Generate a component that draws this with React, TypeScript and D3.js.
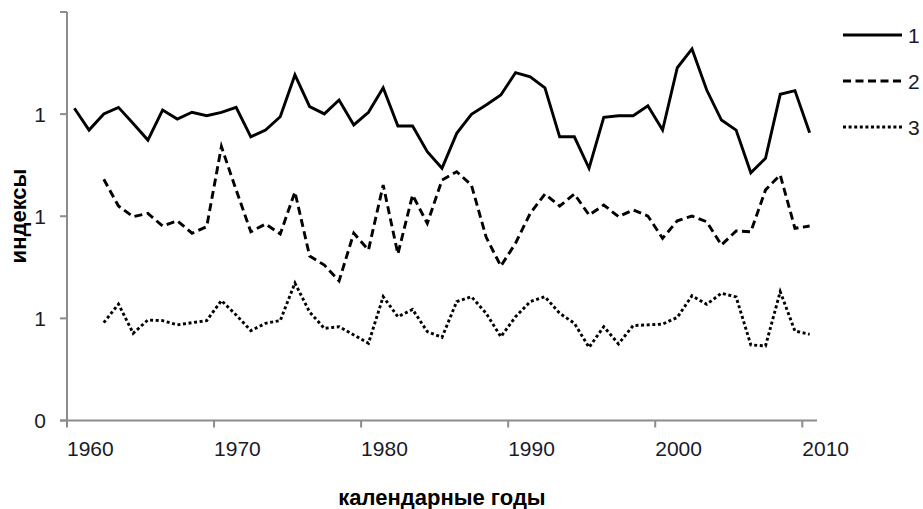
import React from "react";
import * as d3 from "d3";

const years: number[] = [
  1960, 1961, 1962, 1963, 1964, 1965, 1966, 1967, 1968, 1969,
  1970, 1971, 1972, 1973, 1974, 1975, 1976, 1977, 1978, 1979,
  1980, 1981, 1982, 1983, 1984, 1985, 1986, 1987, 1988, 1989,
  1990, 1991, 1992, 1993, 1994, 1995, 1996, 1997, 1998, 1999,
  2000, 2001, 2002, 2003, 2004, 2005, 2006, 2007, 2008, 2009, 2010,
];

const series1: (number | null)[] = [
  1.529, 1.422, 1.501, 1.533, 1.454, 1.373, 1.52, 1.476, 1.509, 1.492,
  1.509, 1.533, 1.389, 1.422, 1.487, 1.692, 1.537, 1.501, 1.569, 1.447,
  1.509, 1.629, 1.442, 1.442, 1.316, 1.235, 1.406, 1.499, 1.545, 1.594,
  1.703, 1.683, 1.629, 1.389, 1.389, 1.235, 1.484, 1.492, 1.492, 1.541,
  1.422, 1.727, 1.819, 1.618, 1.471, 1.422, 1.213, 1.284, 1.597, 1.615, 1.409,
];

const series2: (number | null)[] = [
  null, null, 1.181, 1.05, 0.998, 1.014, 0.952, 0.978, 0.917, 0.949,
  1.341, 1.129, 0.924, 0.962, 0.913, 1.119, 0.805, 0.761, 0.683, 0.917,
  0.835, 1.153, 0.815, 1.104, 0.965, 1.177, 1.218, 1.153, 0.898, 0.756,
  0.868, 1.014, 1.109, 1.05, 1.109, 1.006, 1.055, 0.998, 1.031, 1.001,
  0.892, 0.978, 1.001, 0.973, 0.859, 0.928, 0.924, 1.129, 1.202, 0.941, 0.952,
];

const series3: (number | null)[] = [
  null, null, 0.479, 0.57, 0.427, 0.492, 0.489, 0.468, 0.479, 0.489,
  0.587, 0.517, 0.44, 0.476, 0.489, 0.673, 0.531, 0.451, 0.459, 0.419,
  0.378, 0.606, 0.508, 0.544, 0.435, 0.407, 0.582, 0.606, 0.525, 0.41,
  0.508, 0.582, 0.606, 0.525, 0.476, 0.358, 0.459, 0.375, 0.465, 0.468,
  0.472, 0.505, 0.611, 0.569, 0.623, 0.605, 0.37, 0.365, 0.631, 0.438, 0.422,
];

const seriesNames: string[] = ["1", "2", "3"];
const xTicks: number[] = [1960, 1970, 1980, 1990, 2000, 2010];
const yTicks: number[] = [0, 0.5, 1, 1.5, 2];
const yTickLabels: string[] = ["0", "1", "1", "1", ""];
const xTitle = "календарные годы";
const yTitle = "индексы";

const W = 923;
const H = 509;
const FONT = "'Liberation Sans', Arial, sans-serif";

export default function App() {
  const x = d3.scaleLinear().domain([1960, 2011]).range([67, 817]);
  const y = d3.scaleLinear().domain([0, 2]).range([420.5, 12]);

  const allSeries = [series1, series2, series3];
  const dashes = ["none", "8,4.5", "3,2.6"];

  const line = d3
    .line<[number, number | null]>()
    .defined((d) => d[1] !== null)
    .x((d) => x(d[0] + 0.5))
    .y((d) => y(d[1] as number));

  const axisColor = "#8c8c8c";
  const legendY = [35, 81, 127];

  return (
    <svg
      width={W}
      height={H}
      style={{ position: "absolute", left: 0, top: 0, background: "#fff" }}
    >
      <rect x={0} y={0} width={W} height={H} fill="#fff" />
      {/* axes */}
      <line x1={67} x2={67} y1={y(2)} y2={y(0)} stroke={axisColor} strokeWidth={2} />
      <line x1={60} x2={x(2011)} y1={y(0)} y2={y(0)} stroke={axisColor} strokeWidth={2} />
      {yTicks.map((t, i) => (
        <g key={"yt" + i}>
          <line x1={60} x2={67} y1={y(t)} y2={y(t)} stroke={axisColor} strokeWidth={2} />
          <text
            x={46}
            y={y(t)}
            dy="0.36em"
            textAnchor="end"
            fontFamily={FONT}
            fontSize={21}
            fill="#1a1a2a"
          >
            {yTickLabels[i]}
          </text>
        </g>
      ))}
      {xTicks.map((t) => (
        <g key={"xt" + t}>
          <line x1={x(t)} x2={x(t)} y1={y(0)} y2={y(0) + 7} stroke={axisColor} strokeWidth={2} />
          <text
            x={x(t)}
            y={456}
            textAnchor="start"
            fontFamily={FONT}
            fontSize={21}
            fill="#1a1a2a"
          >
            {t}
          </text>
        </g>
      ))}
      {/* series */}
      {allSeries.map((s, i) => (
        <path
          key={"s" + i}
          d={line(years.map((yr, j) => [yr, s[j]] as [number, number | null])) || ""}
          fill="none"
          stroke="#000"
          strokeWidth={2.9}
          strokeDasharray={dashes[i]}
          strokeLinejoin="miter"
        />
      ))}
      {/* legend */}
      {seriesNames.map((n, i) => (
        <g key={"lg" + i}>
          <line
            x1={843}
            x2={902}
            y1={legendY[i]}
            y2={legendY[i]}
            stroke="#000"
            strokeWidth={2.9}
            strokeDasharray={dashes[i]}
          />
          <text
            x={908}
            y={legendY[i]}
            dy="0.36em"
            fontFamily={FONT}
            fontSize={21}
            fill="#1a1a2a"
          >
            {n}
          </text>
        </g>
      ))}
      {/* titles */}
      <text
        x={442}
        y={505}
        textAnchor="middle"
        fontFamily={FONT}
        fontWeight="bold"
        fontSize={22}
        fill="#000"
      >
        {xTitle}
      </text>
      <text
        transform={`translate(26, 216) rotate(-90)`}
        textAnchor="middle"
        fontFamily={FONT}
        fontWeight="bold"
        fontSize={22}
        fill="#000"
      >
        {yTitle}
      </text>
    </svg>
  );
}
